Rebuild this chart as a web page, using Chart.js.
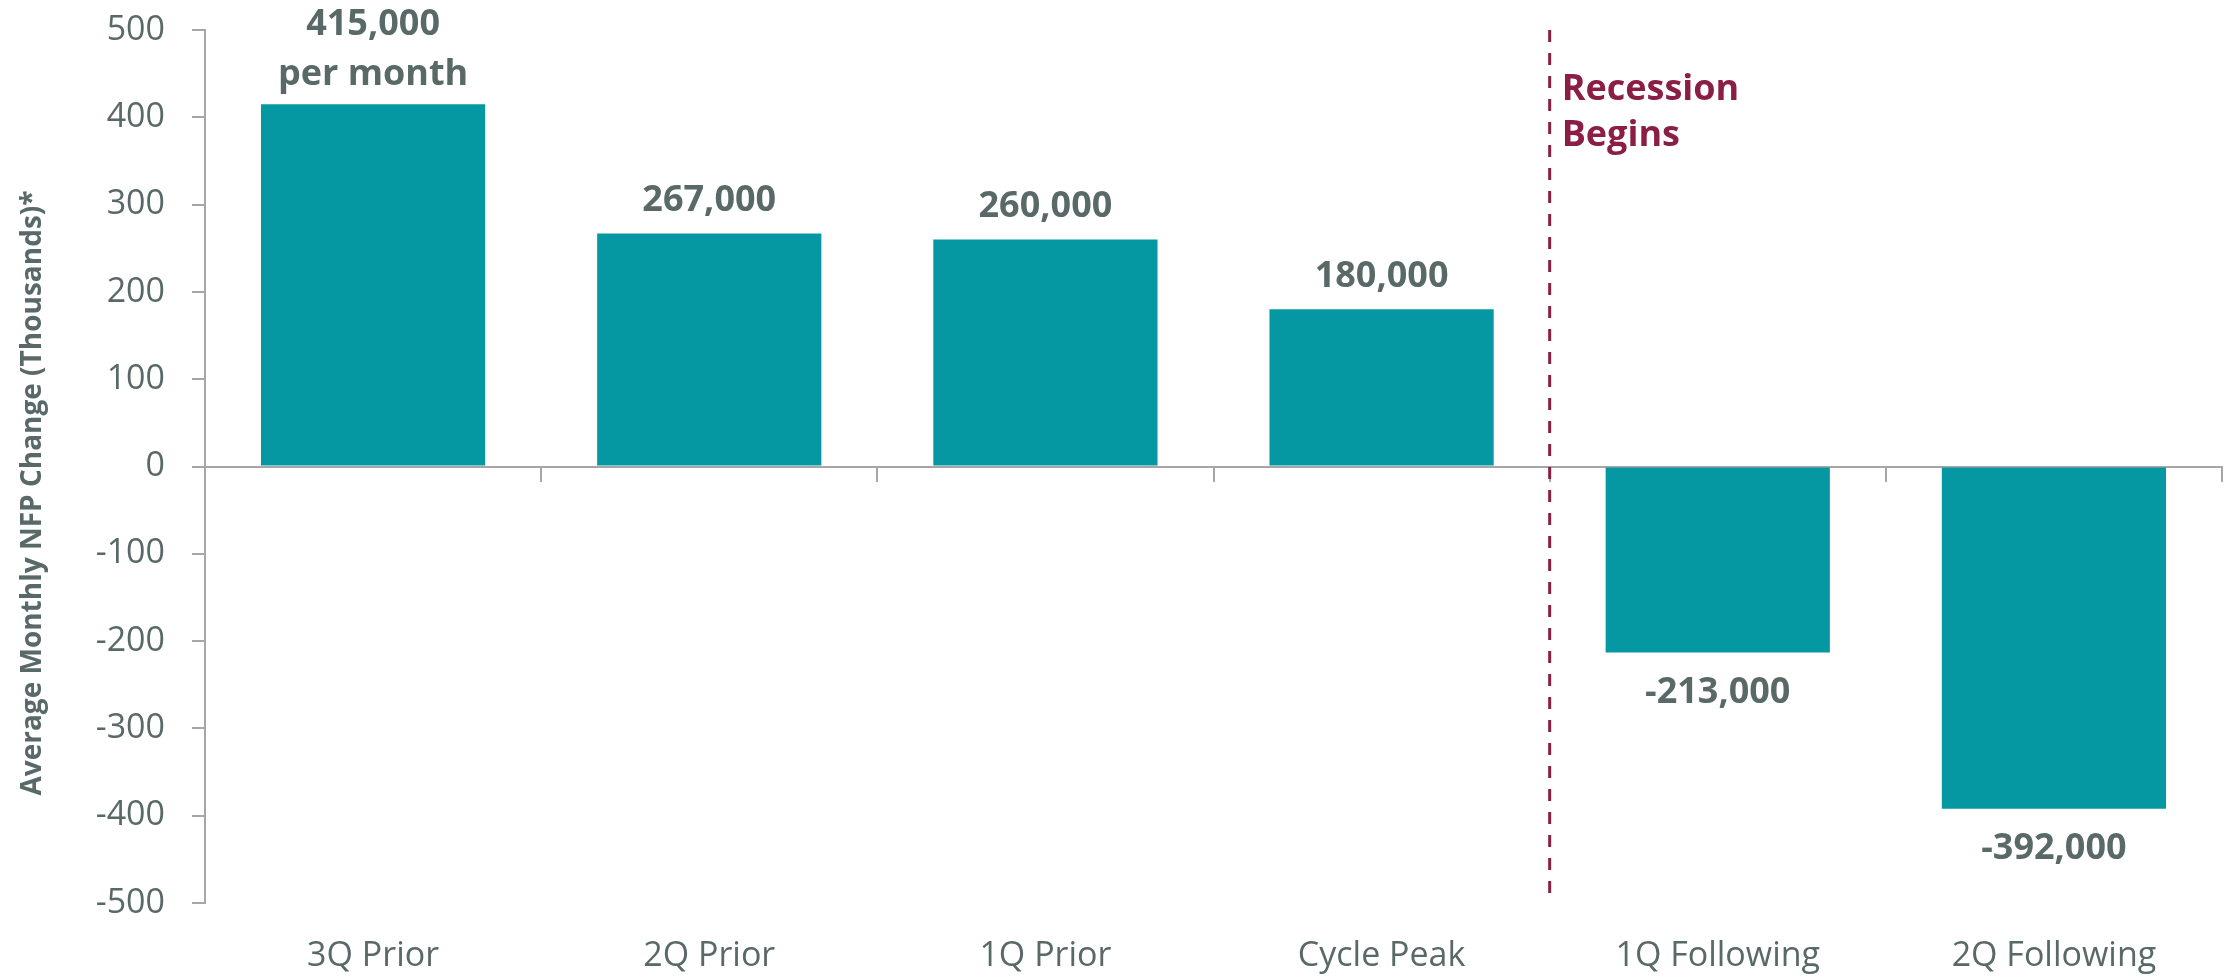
<!DOCTYPE html>
<html lang="en">
<head>
    <meta charset="UTF-8">
    <meta name="viewport" content="width=device-width, initial-scale=1.0">
    <title>NFP around recessions</title>
    <style>
        html, body { margin: 0; padding: 0; background: #fff; }
        #wrap { width: 2231px; height: 980px; }
    </style>
</head>
<body>

    <div id="wrap">
        <canvas id="myChart"></canvas>
    </div>

    <script src="https://cdn.jsdelivr.net/npm/chart.js@4"></script>

    <script>

// average monthly nonfarm payroll change, thousands
const categories = ['3Q Prior', '2Q Prior', '1Q Prior', 'Cycle Peak', '1Q Following', '2Q Following'];
const nfpChange = [415, 267, 260, 180, -213, -392];
const extraNote = ['per month', '', '', '', '', ''];
const yTicks = { min: -500, max: 500, step: 100 };
const recessionAt = 3.5; // between Cycle Peak and 1Q Following

const TEXT = '#596967';
const LINE = '#A6A6A6';
const TEAL = '#0598A2';
const WINE = '#8B1E45';
const FONT = "'Open Sans', 'Liberation Sans', sans-serif";

// value labels above / below each bar
const barLabels = {
  id: 'barLabels',
  afterDatasetsDraw(chart) {
    const ctx = chart.ctx;
    const meta = chart.getDatasetMeta(0);
    ctx.save();
    ctx.font = `bold 36px ${FONT}`;
    ctx.fillStyle = TEXT;
    ctx.textAlign = 'center';
    ctx.textBaseline = 'middle';
    meta.data.forEach((bar, i) => {
      const v = nfpChange[i];
      const lines = [(v * 1000).toLocaleString('en-US')];
      if (extraNote[i]) lines.push(extraNote[i]);
      if (v >= 0) {
        let y = bar.y - (lines.length > 1 ? 29 : 33);
        for (let k = lines.length - 1; k >= 0; k--) {
          ctx.fillText(lines[k], bar.x, y);
          y -= 50;
        }
      } else {
        let y = bar.y + 40;
        lines.forEach(t => { ctx.fillText(t, bar.x, y); y += 50; });
      }
    });
    ctx.restore();
  }
};

// dashed marker where the recession starts, plus the y axis title
const recessionLine = {
  id: 'recessionLine',
  afterDatasetsDraw(chart) {
    const ctx = chart.ctx;
    const xs = chart.scales.x, ys = chart.scales.y;
    const x = xs.getPixelForValue(recessionAt);
    ctx.save();
    ctx.strokeStyle = WINE;
    ctx.lineWidth = 3;
    ctx.setLineDash([12, 11]);
    ctx.beginPath();
    ctx.moveTo(x, ys.getPixelForValue(yTicks.max));
    ctx.lineTo(x, ys.getPixelForValue(yTicks.min));
    ctx.stroke();
    ctx.setLineDash([]);

    ctx.fillStyle = WINE;
    ctx.font = `bold 36px ${FONT}`;
    ctx.textAlign = 'left';
    ctx.textBaseline = 'middle';
    ctx.fillText('Recession', x + 12, 90);
    ctx.fillText('Begins', x + 12, 136);

    ctx.translate(33, 493);
    ctx.rotate(-Math.PI / 2);
    ctx.fillStyle = TEXT;
    ctx.font = `bold 28px ${FONT}`;
    ctx.textAlign = 'center';
    ctx.fillText('Average Monthly NFP Change (Thousands)*', 0, 0);
    ctx.restore();
  }
};

const config = {
  type: 'bar',
  data: {
    labels: categories,
    datasets: [
      {
        label: 'NFP change',
        backgroundColor: TEAL,
        borderWidth: 0,
        categoryPercentage: 1,
        barPercentage: 0.667,
        data: nfpChange
      }
    ]
  },
  options: {
    responsive: true,
    maintainAspectRatio: false,
    animation: false,
    layout: { padding: { top: 30, right: 9, bottom: 0, left: 0 } },
    plugins: {
      legend: { display: false },
      tooltip: { enabled: false }
    },
    scales: {
      x: {
        position: 'bottom',
        grid: { display: false, drawTicks: false },
        border: { display: false },
        ticks: { padding: 33, color: TEXT, font: { family: FONT, size: 34 } },
        afterFit(scale) { scale.height = 77; }
      },
      xZero: {
        type: 'category',
        position: { y: 0 },
        offset: true,
        grid: { offset: true, drawOnChartArea: false, drawTicks: true, tickLength: 14, color: LINE, lineWidth: 2 },
        border: { color: LINE, width: 2 },
        ticks: { display: false },
        afterFit(scale) { scale.height = 0; }
      },
      y: {
        min: yTicks.min,
        max: yTicks.max,
        grid: { drawOnChartArea: false, drawTicks: true, tickLength: 13, color: LINE, lineWidth: 2 },
        border: { color: LINE, width: 2 },
        ticks: { stepSize: yTicks.step, padding: 27, color: TEXT, font: { family: FONT, size: 34 } },
        afterFit(scale) {
          scale.width = 205;
          scale.paddingTop = 0;
          scale.paddingBottom = 0;
        }
      }
    }
  },
  plugins: [barLabels, recessionLine]
};

const myChart = new Chart(document.getElementById('myChart'), config);

    </script>

</body>
</html>
